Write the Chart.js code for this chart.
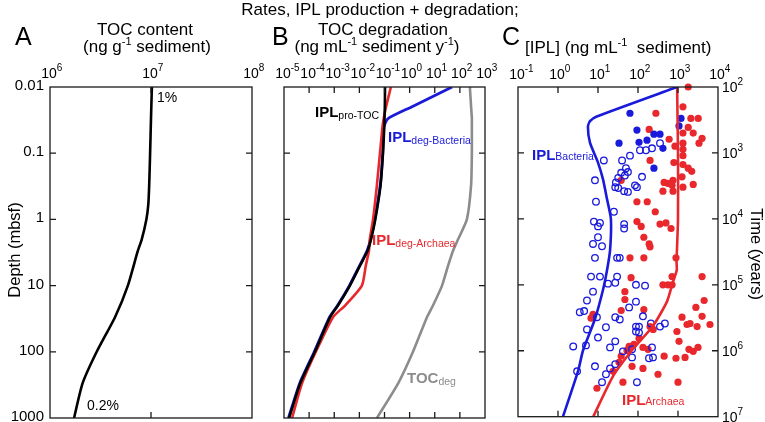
<!DOCTYPE html>
<html>
<head>
<meta charset="utf-8">
<script src="https://cdn.jsdelivr.net/npm/chart.js@4.4.0/dist/chart.umd.min.js"></script>
<style>
  body { margin: 0; background: #fff; }
  #wrap { position: relative; width: 765px; height: 422px; }
  #wrap canvas { position: absolute; left: 0; top: 0; }
</style>
</head>
<body>
<div id="wrap">
  <canvas id="chartA" width="765" height="422"></canvas>
  <canvas id="chartB" width="765" height="422"></canvas>
  <canvas id="chartC" width="765" height="422"></canvas>
</div>
<script>
const FONT = "'Liberation Sans', Arial, sans-serif";
const BLUE = '#1a1adb';
const RED = '#e8282d';
const GRAY = '#8c8c8c';

// Panel A: TOC content vs depth
const depthA = [0.01, 0.03, 0.1, 0.3, 0.6, 1, 2, 3, 10, 30, 100, 300, 1000];
const tocContent = [1.02e7, 1.0e7, 9.8e6, 9.6e6, 9.4e6, 9.0e6, 8.1e6, 7.4e6, 5.9e6, 4.4e6, 2.9e6, 2.1e6, 1.73e6];

// Panel B: rates
const depthB = [0.01, 0.02, 0.03, 0.04, 0.1, 0.3, 1, 2, 3, 5, 10, 20, 30, 100, 300, 1000];
const iplProToc = [0.105, 0.103, 0.1, 0.098, 0.087, 0.07, 0.043, 0.029, 0.021, 0.0106, 4.2e-3, 1.4e-3, 6.8e-4, 1.7e-4, 4.4e-5, 1.6e-5];
const iplDegBacteria = [49, 1.19, 0.138, 0.095, 0.085, 0.068, 0.041, 0.028, 0.020, 0.0102, 4.0e-3, 1.35e-3, 6.5e-4, 1.6e-4, 4.2e-5, 1.5e-5];
const iplDegArchaea = [0.18, 0.115, 0.093, 0.083, 0.066, 0.05, 0.035, 0.026, 0.024, 0.018, 0.0126, 2.7e-3, 8.9e-4, 1.85e-4, 5.2e-5, 2.1e-5];
const tocDeg = [250, 280, 300, 300, 300, 280, 190, 85, 53, 34, 19.5, 8.5, 4.9, 1.36, 0.35, 0.05];

// Panel C: IPL concentration model curves
const depthBacteria = [0.01, 0.028, 0.033, 0.04, 0.07, 0.14, 0.25, 0.5, 1, 3, 6, 12, 33, 100, 200, 1000];
const iplBacteria = [950, 9.3, 6.3, 5.6, 6.3, 10, 13.3, 16.8, 21, 20, 16.8, 13.3, 8.4, 4.2, 3.2, 1.33];
const depthArchaea = [0.01, 0.1, 1, 4.5, 6, 9, 18, 42, 94, 240, 1000];
const iplArchaea = [950, 1000, 1000, 920, 930, 750, 530, 237, 75, 24, 7.6];

// Panel C: measured IPL, [ng/mL, depth mbsf]
const archaeaFilled = [[1800,0.010],[280,0.025],[1330,0.020],[2100,0.030],[3200,0.030],[190,0.044],[600,0.062],[1800,0.041],[1330,0.050],[2400,0.050],[4000,0.060],[1330,0.071],[3350,0.071],[840,0.079],[1330,0.088],[1330,0.11],[200,0.13],[790,0.14],[1330,0.15],[1800,0.17],[2200,0.19],[38,0.26],[750,0.26],[1260,0.23],[450,0.28],[560,0.29],[2400,0.30],[710,0.31],[1330,0.33],[420,0.38],[750,0.38],[94,0.55],[170,0.55],[270,0.78],[94,1.1],[120,1.3],[355,1.2],[500,1.15],[670,1.4],[140,1.9],[190,2.4],[200,2.65],[63,3.9],[140,3.9],[890,3.9],[67,7.8],[710,7.5],[4000,7.5],[420,10],[560,10],[710,10],[47,12.7],[47,16.7],[4500,17.3],[7.5,28],[6.7,32],[38,24.5],[140,23.7],[2800,22],[1260,31],[4000,30],[200,43],[240,47.5],[1680,40],[2000,38.6],[940,51],[3000,43],[6300,40],[106,65],[1060,72],[79,80],[60,86],[53,99],[133,89],[178,95],[1880,95],[2400,102],[3160,89],[38,121],[33.5,150],[450,121],[890,130],[1500,126],[71,172],[133,185],[23.7,205],[316,227],[42,300],[1000,300],[9.4,370]];
const bacteriaFilled = [[63,0.025],[1190,0.030],[94,0.045],[1060,0.039],[250,0.052],[355,0.052],[168,0.064],[33.5,0.071],[106,0.069],[420,0.085],[250,0.17]];
const bacteriaOpen = [[112,0.091],[158,0.091],[224,0.085],[355,0.071],[63,0.11],[40,0.13],[14,0.13],[50,0.17],[56,0.195],[47,0.22],[38,0.20],[32,0.24],[28,0.28],[126,0.23],[8.4,0.26],[27,0.33],[32,0.34],[84,0.31],[94,0.33],[45,0.38],[56,0.39],[8.9,0.55],[25,0.78],[7.9,1.1],[11.2,1.15],[10,1.3],[45,1.2],[45,1.4],[10,1.9],[7.5,2.4],[12.6,2.6],[8.4,3.9],[30,3.9],[35,3.9],[6.7,7.5],[11.2,7.5],[30,7.5],[17.8,9.6],[27,9.3],[7.5,12.7],[89,10],[150,10.3],[5.3,17.3],[89,18],[3.5,26],[4.5,25],[9.4,31],[60,22],[27,31],[35,33.5],[133,30],[5.3,47.5],[15.8,44],[89,43],[106,43],[106,53],[89,51],[210,38.6],[355,43],[470,38.6],[10,63],[27,72],[2.4,86],[5,83],[20,89],[42,102],[71,95],[224,89],[237,126],[188,130],[71,126],[8.4,172],[20,185],[27,160],[3,205],[15.8,227],[12.6,300],[94,300]];

// Tick labels
const depthTicks = [0.01, 0.1, 1, 10, 100, 1000];
const depthLabels = ['0.01', '0.1', '1', '10', '100', '1000'];
const expTopA = [6, 7, 8];
const expTopB = [-5, -4, -3, -2, -1, 0, 1, 2, 3];
const expTopC = [-1, 0, 1, 2, 3, 4];
const expTime = [2, 3, 4, 5, 6, 7];

const pts = (xs, ys) => xs.map((x, i) => ({ x: x, y: ys[i] }));
const pairs = arr => arr.map(p => ({ x: p[0], y: p[1] }));

function lineSet(data, color, width) {
    return { data: data, showLine: true, borderColor: color, borderWidth: width || 2.6,
             pointRadius: 0, fill: false, tension: 0.2 };
}

// draw a run of text pieces (for super/subscripts)
function rich(ctx, segs, x, y, align, color) {
    let total = 0;
    segs.forEach(s => {
        ctx.font = (s.bold ? 'bold ' : '') + s.size + 'px ' + FONT;
        s.w = ctx.measureText(s.t).width;
        total += s.w;
    });
    let cx = align === 'center' ? x - total / 2 : (align === 'right' ? x - total : x);
    ctx.textAlign = 'left';
    ctx.textBaseline = 'alphabetic';
    segs.forEach(s => {
        ctx.font = (s.bold ? 'bold ' : '') + s.size + 'px ' + FONT;
        ctx.fillStyle = s.color || color || '#000';
        ctx.fillText(s.t, cx, y + (s.dy || 0));
        cx += s.w;
    });
}

function drawFrame(chart, xVals) {
    const { ctx, chartArea: a, scales } = chart;
    ctx.save();
    ctx.strokeStyle = '#1a1a1a';
    ctx.lineWidth = 1.3;
    ctx.strokeRect(a.left, a.top, a.right - a.left, a.bottom - a.top);
    ctx.beginPath();
    xVals.forEach(v => {
        const px = scales.x.getPixelForValue(v);
        if (px <= a.left + 1 || px >= a.right - 1) return;
        ctx.moveTo(px, a.top); ctx.lineTo(px, a.top + 6);
        ctx.moveTo(px, a.bottom); ctx.lineTo(px, a.bottom - 6);
    });
    depthTicks.forEach(v => {
        const py = scales.y.getPixelForValue(v);
        if (py <= a.top + 1 || py >= a.bottom - 1) return;
        ctx.moveTo(a.left, py); ctx.lineTo(a.left + 6, py);
        ctx.moveTo(a.right, py); ctx.lineTo(a.right - 6, py);
    });
    ctx.stroke();
    ctx.restore();
}

function drawTopLabels(chart, exps, baseY) {
    const ctx = chart.ctx;
    exps.forEach(k => {
        const px = chart.scales.x.getPixelForValue(Math.pow(10, k));
        ctx.font = '14px ' + FONT;
        const w = ctx.measureText('10').width;
        rich(ctx, [{ t: '10', size: 14 }, { t: String(k), size: 10, dy: -7 }], px - w / 2 - 1, baseY, 'left');
    });
}

const baseOptions = (pad, xMin, xMax) => ({
    responsive: false,
    animation: false,
    events: [],
    layout: { padding: pad },
    plugins: { legend: { display: false }, tooltip: { enabled: false } },
    scales: {
        x: { type: 'logarithmic', position: 'top', min: xMin, max: xMax, display: false },
        y: { type: 'logarithmic', min: 0.01, max: 1000, reverse: true, display: false }
    }
});

// ---- Panel A ----
new Chart(document.getElementById('chartA'), {
    type: 'scatter',
    data: { datasets: [lineSet(pts(tocContent, depthA), '#000', 2.6)] },
    options: baseOptions({ left: 50, top: 87, right: 513, bottom: 4 }, 1e6, 1e8),
    plugins: [{
        id: 'panelA',
        afterDatasetsDraw(chart) { drawFrame(chart, expTopA.map(k => Math.pow(10, k))); },
        afterDraw(chart) {
            const ctx = chart.ctx;
            ctx.save();
            rich(ctx, [{ t: 'Rates, IPL production + degradation;', size: 17 }], 380, 15, 'center');
            rich(ctx, [{ t: 'A', size: 25 }], 15, 45, 'left');
            rich(ctx, [{ t: 'TOC content', size: 17 }], 145, 35, 'center');
            rich(ctx, [{ t: '(ng g', size: 17 }, { t: '-1', size: 11, dy: -7 }, { t: ' sediment)', size: 17 }], 147, 52, 'center');
            drawTopLabels(chart, expTopA, 78);
            depthTicks.forEach((v, i) => {
                const py = chart.scales.y.getPixelForValue(v);
                rich(ctx, [{ t: depthLabels[i], size: 15 }], 44, py + 3, 'right');
            });
            ctx.translate(14, 250);
            ctx.rotate(-Math.PI / 2);
            rich(ctx, [{ t: 'Depth (mbsf)', size: 16.5 }], 0, 6, 'center');
            ctx.setTransform(1, 0, 0, 1, 0, 0);
            rich(ctx, [{ t: '1%', size: 14 }], 157, 102, 'left');
            rich(ctx, [{ t: '0.2%', size: 14 }], 87, 410, 'left');
            ctx.restore();
        }
    }]
});

// ---- Panel B ----
new Chart(document.getElementById('chartB'), {
    type: 'scatter',
    data: { datasets: [
        lineSet(pts(iplProToc, depthB), '#000', 2.6),
        lineSet(pts(iplDegArchaea, depthB), RED, 2.6),
        lineSet(pts(iplDegBacteria, depthB), BLUE, 2.8),
        lineSet(pts(tocDeg, depthB), GRAY, 2.6)
    ] },
    options: baseOptions({ left: 284, top: 87, right: 280, bottom: 4 }, 1e-5, 1e3),
    plugins: [{
        id: 'panelB',
        afterDatasetsDraw(chart) { drawFrame(chart, expTopB.map(k => Math.pow(10, k))); },
        afterDraw(chart) {
            const ctx = chart.ctx;
            ctx.save();
            rich(ctx, [{ t: 'B', size: 25 }], 272, 45, 'left');
            rich(ctx, [{ t: 'TOC degradation', size: 17 }], 383, 35, 'center');
            rich(ctx, [{ t: '(ng mL', size: 17 }, { t: '-1', size: 11, dy: -7 }, { t: ' sediment y', size: 17 },
                       { t: '-1', size: 11, dy: -7 }, { t: ')', size: 17 }], 377, 52, 'center');
            drawTopLabels(chart, expTopB, 78);
            rich(ctx, [{ t: 'IPL', size: 15, bold: true }, { t: 'pro-TOC', size: 10.5, dy: 2 }], 315, 117, 'left', '#000');
            rich(ctx, [{ t: 'IPL', size: 15, bold: true }, { t: 'deg-Bacteria', size: 10.5, dy: 2 }], 388, 142, 'left', BLUE);
            rich(ctx, [{ t: 'IPL', size: 15, bold: true }, { t: 'deg-Archaea', size: 10.5, dy: 2 }], 372, 245, 'left', RED);
            rich(ctx, [{ t: 'TOC', size: 15, bold: true }, { t: 'deg', size: 10.5, dy: 2 }], 407, 383, 'left', GRAY);
            ctx.restore();
        }
    }]
});

// ---- Panel C ----
const optsC = baseOptions({ left: 518, top: 87, right: 47, bottom: 4 }, 1e-1, 1e4);
optsC.scales.time = { type: 'logarithmic', min: 1e2, max: 1e7, reverse: true, display: false, axis: 'y' };

new Chart(document.getElementById('chartC'), {
    type: 'scatter',
    data: { datasets: [
        lineSet(pts(iplBacteria, depthBacteria), BLUE, 2.6),
        lineSet(pts(iplArchaea, depthArchaea), RED, 2.6),
        { data: pairs(bacteriaOpen), pointRadius: 3.3, pointBorderWidth: 1.3,
          pointBorderColor: BLUE, pointBackgroundColor: 'rgba(255,255,255,0)', clip: false },
        { data: pairs(bacteriaFilled), pointRadius: 3.6, pointBorderWidth: 0,
          pointBackgroundColor: BLUE, clip: false },
        { data: pairs(archaeaFilled), pointRadius: 3.6, pointBorderWidth: 0,
          pointBackgroundColor: RED, clip: false }
    ] },
    options: optsC,
    plugins: [{
        id: 'panelC',
        afterDatasetsDraw(chart) { drawFrame(chart, expTopC.map(k => Math.pow(10, k))); },
        afterDraw(chart) {
            const ctx = chart.ctx;
            ctx.save();
            rich(ctx, [{ t: 'C', size: 25 }], 502, 45, 'left');
            rich(ctx, [{ t: '[IPL] (ng mL', size: 17 }, { t: '-1', size: 11, dy: -7 }, { t: '  sediment)', size: 17 }], 525, 53, 'left');
            drawTopLabels(chart, expTopC, 79);
            expTime.forEach(k => {
                const py = chart.scales.time.getPixelForValue(Math.pow(10, k));
                rich(ctx, [{ t: '10', size: 14 }, { t: String(k), size: 10, dy: -7 }], 722, py + 5, 'left');
            });
            ctx.translate(757, 254);
            ctx.rotate(Math.PI / 2);
            rich(ctx, [{ t: 'Time (years)', size: 16.5 }], 0, 6, 'center');
            ctx.setTransform(1, 0, 0, 1, 0, 0);
            rich(ctx, [{ t: 'IPL', size: 15, bold: true }, { t: 'Bacteria', size: 10.5 }], 532, 160, 'left', BLUE);
            rich(ctx, [{ t: 'IPL', size: 15, bold: true }, { t: 'Archaea', size: 10.5 }], 622, 405, 'left', RED);
            ctx.restore();
        }
    }]
});
</script>
</body>
</html>
